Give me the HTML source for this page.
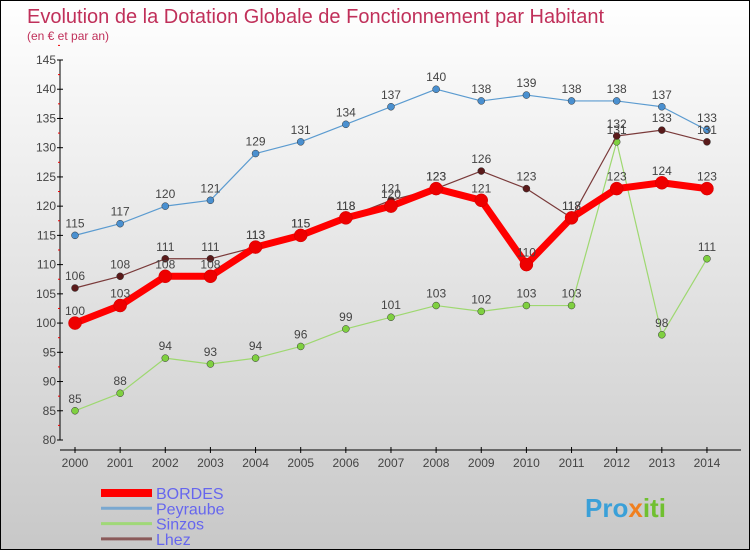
<!DOCTYPE html>
<html><head><meta charset="utf-8"><style>
html,body{margin:0;padding:0}
body{width:750px;height:550px;overflow:hidden;font-family:"Liberation Sans","DejaVu Sans",sans-serif}
#c{position:absolute;left:0;top:0;width:748px;height:548px;border:1px solid #000;background:linear-gradient(#fff,#c8c8c8)}
</style></head><body>
<div id="c">
<svg id="s" width="748" height="548" xmlns="http://www.w3.org/2000/svg">
<text x="26" y="22" font-size="20" fill="#c0305a">Evolution de la Dotation Globale de Fonctionnement par Habitant</text>
<text x="26" y="39" font-size="12" fill="#c0305a">(en € et par an)</text>
<g id="axes"></g><g id="series"></g><g id="legend"></g>
<text x="584" y="516" font-size="26" font-weight="bold" fill="#3aa0d8">Pro<tspan fill="#f08020">x</tspan><tspan fill="#70c030">iti</tspan></text>
</svg></div>
<script>
const years=[2000,2001,2002,2003,2004,2005,2006,2007,2008,2009,2010,2011,2012,2013,2014];
const yTicks=[80,85,90,95,100,105,110,115,120,125,130,135,140,145];
const seriesNames=["BORDES","Peyraube","Sinzos","Lhez"];
const bordes=[100,103,108,108,113,115,118,120,123,121,110,118,123,124,123];
const peyraube=[115,117,120,121,129,131,134,137,140,138,139,138,138,137,133];
const sinzos=[85,88,94,93,94,96,99,101,103,102,103,103,131,98,111];
const lhez=[106,108,111,111,113,115,118,121,123,126,123,118,132,133,131];
const NS="http://www.w3.org/2000/svg";
function X(i){return 74+i*45.14;}
function Y(v){return 439-(v-80)*380/65;}
function mk(t,a,p){const e=document.createElementNS(NS,t);for(const k in a)e.setAttribute(k,a[k]);p.appendChild(e);return e;}
const ax=document.getElementById('axes');
let yl=mk('line',{x1:59,y1:Y(145),x2:59,y2:Y(80),stroke:'#000'},ax);


yTicks.forEach(v=>{
 mk('line',{x1:56,y1:Y(v),x2:62,y2:Y(v),stroke:'#000'},ax);
 mk('line',{x1:57,y1:Y(v+2.5),x2:59,y2:Y(v+2.5),stroke:'#e00'},ax);
 const t=mk('text',{x:55,y:Y(v)+4,'font-size':12,fill:'#444','text-anchor':'end'},ax);t.textContent=v;
 
 
});
let xl=mk('line',{x1:59,y1:449,x2:740,y2:449,stroke:'#000'},ax);


years.forEach((y,i)=>{
 mk('line',{x1:X(i),y1:446,x2:X(i),y2:452,stroke:'#000'},ax);
 const t=mk('text',{x:X(i),y:466,'font-size':12,fill:'#444','text-anchor':'middle'},ax);t.textContent=y;
 
 
});
const sg=document.getElementById('series');
const defs=[[peyraube,'#5b9bd0',1.2,3.5,'#4a90d0'],[sinzos,'#9ed870',1.2,3.5,'#7fd040'],[lhez,'#7a3a3a',1.2,3.5,'#5a1a1a'],[bordes,'#f00',7,6.5,'#e00']];
const nm=['peyraube','sinzos','lhez','bordes'];
defs.forEach((d,k)=>{
 const g=mk('g',{},sg);
 
 
 const pts=d[0].map((v,i)=>X(i)+','+Y(v)).join(' ');
 mk('polyline',{points:pts,fill:'none',stroke:d[1],'stroke-width':d[2],'stroke-linejoin':'round'},g);
 d[0].forEach((v,i)=>{
  const c=mk('circle',{cx:X(i),cy:Y(v),r:d[3],fill:d[4],stroke:k==3?'#c00':'#333','stroke-width':0.5},g);
  
  
  const t=mk('text',{x:X(i),y:Y(v)-8,'font-size':12,fill:'#444','text-anchor':'middle'},g);t.textContent=v;
  
  
 });
});
const lg=document.getElementById('legend');
const lc=['#f00','#7aa8d0','#a0d878','#8a5a5a'],lw=[8,3,3,3];
seriesNames.forEach((n,i)=>{
 const y=492+i*15.3;
 const e=mk('g',{},lg);
 
 
 mk('line',{x1:100,y1:y,x2:151,y2:y,stroke:lc[i],'stroke-width':lw[i]},e);
 const t=mk('text',{x:155,y:y+6,'font-size':16,fill:'#6666ee'},e);t.textContent=n;
});
</script>
</body></html>
